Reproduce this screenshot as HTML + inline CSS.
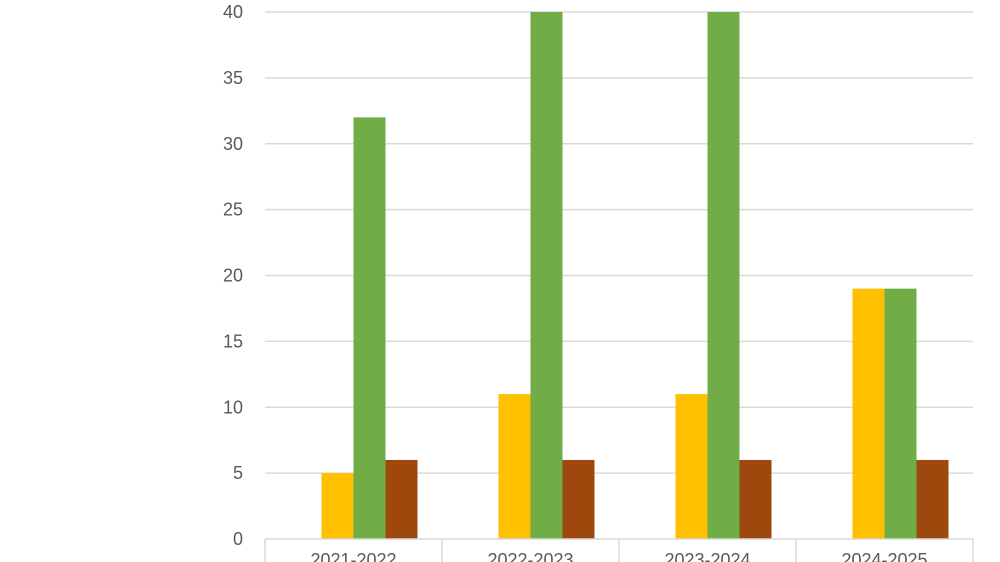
<!DOCTYPE html>
<html><head><meta charset="utf-8"><style>
html,body{margin:0;padding:0;background:#fff;width:1000px;height:562px;overflow:hidden}
svg text{font-family:"Liberation Sans",sans-serif;fill:#595959}
</style></head><body>
<svg id="chart" width="1000" height="562" viewBox="0 0 1000 562"></svg>
<script>
const categories=["2021-2022","2022-2023","2023-2024","2024-2025"];
const seriesA=[0,0,0,0];
const seriesB=[5,11,11,19];
const seriesC=[32,40,40,19];
const seriesD=[6,6,6,6];
const yTicks=[0,5,10,15,20,25,30,35,40];
const colors=["#4472c4","#ffc000","#70ad47","#9e480e"];
const NS="http://www.w3.org/2000/svg";
const svg=document.getElementById('chart');
const x0=265,x1=973,yTop=12,yBot=539,yMax=40;
const y=v=>yBot-(v/yMax)*(yBot-yTop);
const bandW=(x1-x0)/categories.length;
const barW=32;
function mk(t,a){const e=document.createElementNS(NS,t);for(const k in a)e.setAttribute(k,a[k]);svg.appendChild(e);return e;}
yTicks.forEach(t=>{
  if(t>0){const g=mk('line',{x1:x0,x2:x1,y1:y(t),y2:y(t),stroke:'#d9d9d9','stroke-width':1.5});
  
  }
  const l=mk('text',{x:243,y:y(t)+6,'text-anchor':'end','font-size':18});
  l.textContent=t;
  
  
});
const series=[seriesA,seriesB,seriesC,seriesD];
categories.forEach((c,i)=>{
  const bx=x0+i*bandW+(bandW-barW*4)/2;
  series.forEach((s,j)=>{
    if(s[i]<=0)return;
    const r=mk('rect',{x:bx+j*barW,y:y(s[i]),width:barW,height:yBot-y(s[i]),fill:colors[j]});
    
    
  });
  const t=mk('text',{x:x0+(i+0.5)*bandW,y:566,'text-anchor':'middle','font-size':18});
  t.textContent=c;
  
  
});
for(let i=0;i<=categories.length;i++){
  const tl=mk('line',{x1:x0+i*bandW,x2:x0+i*bandW,y1:yBot,y2:562,stroke:'#d9d9d9','stroke-width':1.5});
  
  
}
const ax=mk('line',{x1:x0,x2:x1,y1:yBot,y2:yBot,stroke:'#d9d9d9','stroke-width':1.5});


</script>
</body></html>
